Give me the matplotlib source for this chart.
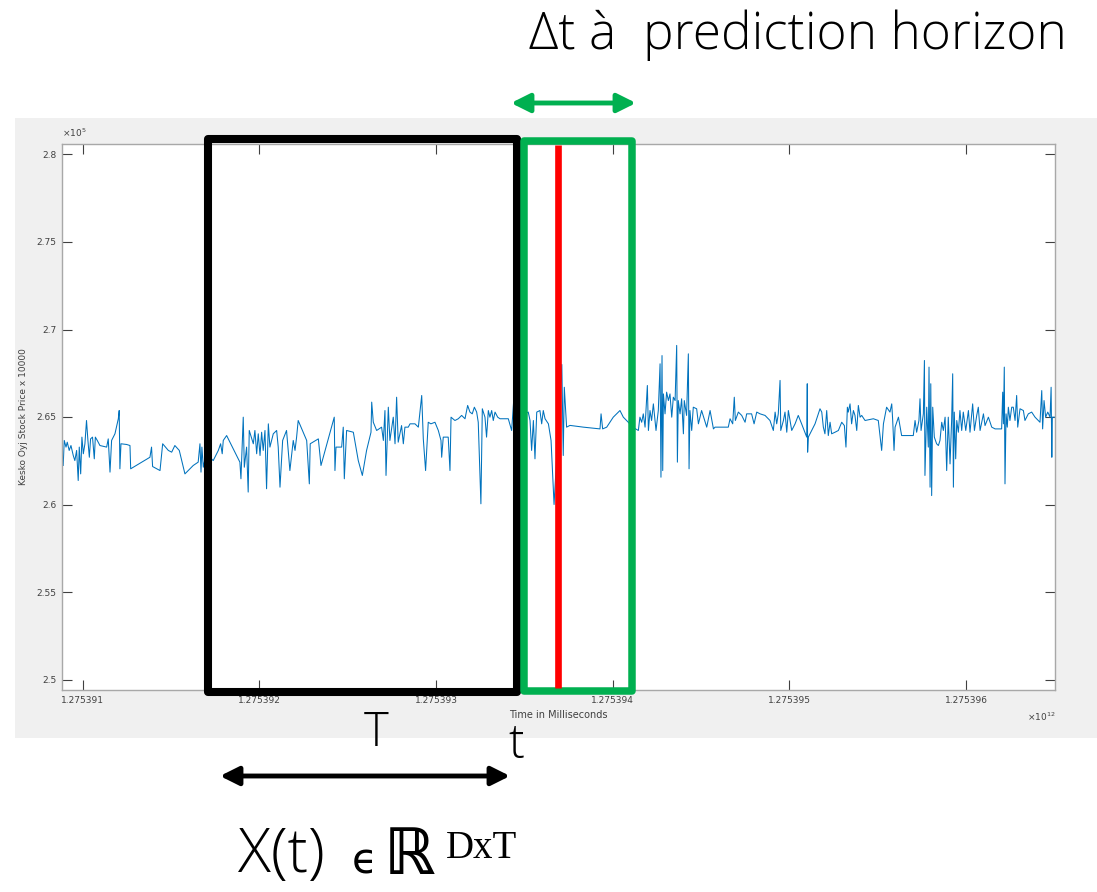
import matplotlib
matplotlib.use("Agg")
import matplotlib.pyplot as plt
from matplotlib.patches import Rectangle
from matplotlib.lines import Line2D
import numpy as np

# ---- data: time offset (seconds after 1.275391e12 ms) and price (x10000) ----
t_offset_s = [
    -110, -104, -94, -87, -76, -66, -53, -44, -34, -25, -19, -11, -4, 4, 13, 22, 30, 38, 45, 56,
    66, 72, 83, 98, 136, 145, 155, 164, 183, 202, 207, 211, 217, 249, 268, 272, 381, 390, 396, 438,
    453, 485, 504, 522, 547, 579, 626, 654, 664, 670, 675, 683, 702, 720, 739, 768, 781, 790, 796, 815,
    890, 896, 909, 915, 928, 937, 943, 966, 975, 985, 994, 1004, 1013, 1022, 1032, 1041, 1051, 1060, 1079, 1098,
    1107, 1117, 1132, 1154, 1173, 1192, 1202, 1211, 1220, 1268, 1283, 1288, 1334, 1349, 1390, 1424, 1428, 1434, 1466, 1475,
    1481, 1494, 1532, 1560, 1583, 1607, 1632, 1636, 1645, 1664, 1692, 1702, 1711, 1717, 1730, 1739, 1758, 1768, 1777, 1786,
    1805, 1815, 1824, 1843, 1853, 1881, 1900, 1919, 1928, 1941, 1956, 1971, 1994, 2013, 2028, 2032, 2041, 2069, 2079, 2085,
    2107, 2126, 2145, 2164, 2179, 2192, 2205, 2217, 2230, 2239, 2254, 2262, 2277, 2286, 2296, 2305, 2315, 2324, 2334, 2349,
    2362, 2381, 2409, 2428, 2439, 2447, 2475, 2522, 2532, 2541, 2551, 2560, 2570, 2588, 2598, 2607, 2617, 2636, 2651, 2668,
    2712, 2720, 2726, 2739, 2758, 2834, 2928, 2934, 2943, 2966, 3003, 3022, 3041, 3060, 3088, 3113, 3145, 3154, 3164, 3173,
    3183, 3196, 3202, 3211, 3220, 3230, 3245, 3258, 3268, 3273, 3279, 3283, 3287, 3296, 3305, 3315, 3324, 3334, 3343, 3353,
    3362, 3366, 3371, 3381, 3390, 3400, 3405, 3418, 3428, 3432, 3437, 3447, 3456, 3475, 3485, 3503, 3532, 3551, 3570, 3579,
    3607, 3626, 3654, 3664, 3679, 3688, 3694, 3711, 3730, 3749, 3758, 3786, 3800, 3815, 3834, 3862, 3890, 3909, 3919, 3928,
    3937, 3947, 3951, 3966, 3975, 3985, 3994, 4013, 4032, 4050, 4069, 4098, 4101, 4103, 4107, 4145, 4173, 4183, 4192, 4201,
    4211, 4220, 4230, 4239, 4258, 4277, 4296, 4311, 4320, 4328, 4333, 4343, 4352, 4362, 4371, 4381, 4390, 4400, 4409, 4428,
    4475, 4503, 4522, 4532, 4550, 4569, 4579, 4584, 4592, 4598, 4617, 4635, 4673, 4701, 4711, 4720, 4733, 4739, 4745, 4758,
    4764, 4767, 4777, 4786, 4790, 4796, 4800, 4805, 4811, 4820, 4833, 4843, 4852, 4862, 4871, 4881, 4890, 4899, 4909, 4918,
    4924, 4928, 4933, 4941, 4947, 4956, 4965, 4975, 4984, 4998, 5013, 5022, 5037, 5047, 5060, 5069, 5079, 5098, 5107, 5126,
    5145, 5164, 5201, 5207, 5211, 5216, 5220, 5226, 5233, 5239, 5248, 5258, 5267, 5277, 5286, 5292, 5305, 5324, 5333, 5352,
    5371, 5390, 5418, 5428, 5433, 5441, 5450, 5462, 5475, 5481, 5485, 5488, 5503,
]
price = [
    262230, 263660, 263280, 263560, 263090, 263370, 262800, 262510, 263090, 261370, 263280, 261750, 263850, 262900, 263470, 264800, 263660, 262700, 263750, 263850,
    262610, 263850, 263660, 263370, 263280, 263750, 261850, 263660, 264040, 264900, 265370, 262040, 263470, 263430, 263370, 262040, 262700, 263280, 262170, 261940,
    263470, 263090, 262990, 263370, 263090, 261750, 262230, 262420, 263470, 261850, 263280, 262130, 263090, 262700, 262510, 263090, 263470, 262900, 263660, 263940,
    262420, 261470, 264990, 262130, 263280, 260710, 264230, 263470, 264230, 262900, 264040, 262800, 264130, 263090, 264230, 260900, 264610, 263280, 264040, 264230,
    263280, 260990, 263660, 264230, 261940, 263660, 263090, 263850, 264800, 263660, 261180, 263470, 263750, 262230, 263750, 264990, 261940, 263280, 263280, 264420,
    261470, 264230, 264130, 262510, 261660, 263090, 264130, 265850, 264700, 264230, 264420, 263660, 265370, 261660, 265560, 263660, 264990, 263470, 266130, 263560,
    264510, 263470, 264420, 264420, 264610, 264610, 264420, 266230, 263750, 261940, 264700, 264610, 264700, 264230, 263660, 262700, 263850, 263850, 261940, 264990,
    264800, 264900, 265090, 264900, 265660, 265280, 265180, 265560, 265280, 264700, 260040, 265470, 264990, 263850, 265370, 264990, 265370, 264800, 265280, 264990,
    264900, 264900, 264900, 264230, 265850, 265180, 265090, 265280, 264800, 263090, 264800, 262610, 265280, 265370, 264610, 265370, 264900, 264610, 263660, 260000,
    268000, 262800, 266700, 264420, 264520, 264420, 264320, 265180, 264320, 264420, 264990, 265180, 265370, 264990, 264700, 264420, 264230, 264990, 264700, 265180,
    264420, 266800, 264230, 265370, 264800, 265750, 264230, 265370, 268040, 261560, 268510, 261940, 266320, 265180, 266420, 265940, 266320, 264990, 266130, 265940,
    269090, 262420, 265940, 265180, 266040, 264040, 265940, 265090, 268610, 262040, 265370, 264230, 265560, 265470, 264610, 265370, 264420, 265370, 264320, 264420,
    264420, 264420, 264420, 264900, 264610, 266130, 264800, 265280, 265090, 264700, 265180, 265180, 264610, 265280, 265180, 265090, 264800, 264230, 265280, 264610,
    265180, 267090, 264230, 264800, 265280, 264130, 265370, 264230, 264610, 265090, 264610, 263850, 266900, 262990, 263850, 264610, 265470, 265280, 264420, 264040,
    265370, 263940, 264700, 264040, 264130, 264230, 264700, 264510, 263280, 265560, 265280, 265750, 264610, 265370, 265090, 264230, 265660, 264990, 265090, 264800,
    264900, 264800, 263090, 264610, 265560, 265280, 265750, 264900, 263090, 264420, 264990, 263940, 263940, 263940, 264800, 264130, 264800, 266040, 264230, 265180,
    268230, 261660, 265560, 263280, 267850, 260990, 266900, 260510, 265560, 263850, 263470, 263370, 263660, 264700, 264230, 264990, 261940, 264990, 262320, 264800,
    267470, 260990, 265280, 262610, 264800, 264130, 265370, 264230, 265280, 264230, 265370, 264130, 265750, 264230, 265090, 265560, 264230, 265180, 264510, 264990,
    264420, 264320, 264320, 266420, 264610, 267850, 261180, 265180, 264420, 265560, 264800, 265560, 265560, 264800, 266230, 264420, 265470, 265370, 264800, 265180,
    265280, 264990, 264700, 266510, 264320, 265940, 264990, 265280, 264990, 266700, 262700, 264990, 264990,
]

x_ticks_ms = [1275391e6, 1275392e6, 1275393e6, 1275394e6, 1275395e6, 1275396e6]
x_tick_labels = ["1.275391", "1.275392", "1.275393", "1.275394", "1.275395", "1.275396"]
y_ticks = [250000, 255000, 260000, 265000, 270000, 275000, 280000]
y_tick_labels = ["2.5", "2.55", "2.6", "2.65", "2.7", "2.75", "2.8"]
t0_ms = 1275391e6

W, H = 1097, 892
fig = plt.figure(figsize=(W / 100, H / 100), dpi=100)
fig.patch.set_facecolor("white")

# gray MATLAB figure background
bg = fig.add_axes([0, 0, 1, 1], zorder=0)
bg.set_xlim(0, W); bg.set_ylim(H, 0); bg.axis("off")
bg.add_patch(Rectangle((15, 118), W - 15, 738 - 118, facecolor="#F0F0F0", edgecolor="none"))

# main axes
ax = fig.add_axes([62.3 / W, 1 - 690 / H, (1055 - 62.3) / W, (690 - 144) / H], zorder=1)
ax.set_facecolor("white")
x_ms = np.array(t_offset_s) * 1000.0 + t0_ms
ax.plot(x_ms, price, color="#0072BD", lw=0.75)
ax.set_xlim(t0_ms - 115e3, t0_ms + 5503e3)
ax.set_ylim(249400, 280600)
ax.set_xticks(x_ticks_ms)
ax.set_xticklabels(x_tick_labels)
ax.set_yticks(y_ticks)
ax.set_yticklabels(y_tick_labels)
ax.tick_params(direction="in", length=7, width=0.8, color="#404040", labelsize=6.5,
               labelcolor="#404040", top=True, right=True, pad=4)
for s in ax.spines.values():
    s.set_color("#A8A8A8")
    s.set_linewidth(1.0)
ax.set_xlabel("Time in Milliseconds", fontsize=7, color="#404040", labelpad=4)
ax.set_ylabel("Kesko Oyj Stock Price x 10000", fontsize=6.5, color="#404040", labelpad=6)

# overlay for annotations (pixel coordinates)
ov = fig.add_axes([0, 0, 1, 1], zorder=2)
ov.set_xlim(0, W); ov.set_ylim(H, 0); ov.axis("off")
ov.patch.set_alpha(0)

ov.text(62, 139, r"$\times 10^{5}$", fontsize=6.5, color="#404040", ha="left", va="bottom")
ov.text(1055, 717, r"$\times 10^{12}$", fontsize=6.5, color="#404040", ha="right", va="center")

ov.add_patch(Rectangle((207.5, 139), 517 - 207.5, 692 - 139, fill=False, edgecolor="black",
                       lw=5.8, joinstyle="round"))
ov.add_patch(Rectangle((524, 141), 632 - 524, 691 - 141, fill=False, edgecolor="#00B050",
                       lw=5.4, joinstyle="round"))
ov.add_line(Line2D([557.5, 557.5], [145, 688], color="#FF0000", lw=4.8, solid_capstyle="butt"))

ov.annotate("", xy=(636, 103), xytext=(511, 103),
            arrowprops=dict(arrowstyle="<|-|>", color="#00B050", lw=3.5, mutation_scale=28,
                            shrinkA=0, shrinkB=0))
ov.annotate("", xy=(510, 776), xytext=(220, 776),
            arrowprops=dict(arrowstyle="<|-|>", color="black", lw=3.5, mutation_scale=28,
                            shrinkA=0, shrinkB=0))

sans = ["Open Sans", "DejaVu Sans"]
ov.text(529, 35, "Δt à  prediction horizon", fontsize=37, ha="left", va="center", family=sans,
        fontweight="light")
ov.text(376, 734, "T", fontsize=34, ha="center", va="center", family=sans, fontweight="light")
ov.text(516, 746, "t", fontsize=34, ha="center", va="center", family=sans, fontweight="light")

ov.text(238, 856, "X(t)", fontsize=44, ha="left", va="center", family=sans, fontweight="light")
ov.text(352, 862, "ϵ", fontsize=30, ha="left", va="center", family=["DejaVu Sans"])
ov.text(384, 856, "ℝ", fontsize=46, ha="left", va="center", family=["DejaVu Serif", "DejaVu Sans"],
        fontweight="bold")
ov.text(446, 849, "DxT", fontsize=28, ha="left", va="center", family=["Liberation Serif", "DejaVu Serif"])

fig.savefig("out.png", dpi=100, facecolor="white")
